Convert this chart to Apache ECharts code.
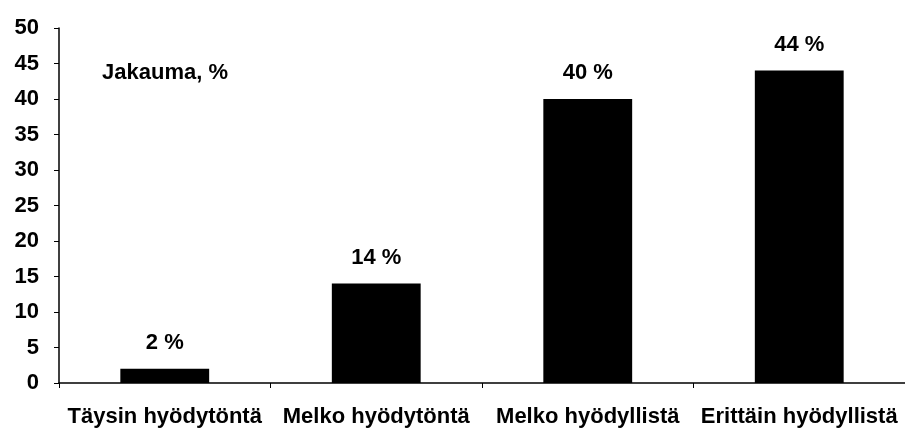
<!DOCTYPE html>
<html><head><meta charset="utf-8">
<script src="https://cdn.jsdelivr.net/npm/echarts@6/dist/echarts.min.js"></script>
<style>html,body{margin:0;padding:0;background:#fff}#c{width:905px;height:430px}</style>
</head><body><div id="c"></div>
<script>
const categories = ["Täysin hyödytöntä", "Melko hyödytöntä", "Melko hyödyllistä", "Erittäin hyödyllistä"];
const values = [2, 14, 40, 44];
const seriesName = "Jakauma, %";
const ff = "Liberation Sans, Arial, sans-serif";
const chart = echarts.init(document.getElementById('c'));
chart.setOption({
  animation: false,
  backgroundColor: '#fff',
  title: { text: seriesName, left: 97, top: 57, textStyle: { fontFamily: ff, fontSize: 22, fontWeight: 'bold', color: '#000' } },
  grid: { left: 59, right: 0, top: 28, bottom: 47, containLabel: false },
  xAxis: {
    type: 'category', data: categories,
    axisLine: { lineStyle: { color: '#000', width: 1.5 } },
    axisTick: { show: true, length: 5, lineStyle: { color: '#000' } },
    axisLabel: { fontFamily: ff, fontSize: 22, fontWeight: 'bold', color: '#000', margin: 23, interval: 0 }
  },
  yAxis: {
    type: 'value', min: 0, max: 50, interval: 5,
    splitLine: { show: false },
    axisLine: { show: true, lineStyle: { color: '#000', width: 1.5 } },
    axisTick: { show: true, length: 5, lineStyle: { color: '#000' } },
    axisLabel: { fontFamily: ff, fontSize: 22, fontWeight: 'bold', color: '#000', margin: 20 }
  },
  series: [{
    type: 'bar', name: seriesName, data: values, barWidth: '42%',
    itemStyle: { color: '#000' },
    label: { show: true, position: 'top', distance: 15, formatter: '{c} %', fontFamily: ff, fontSize: 22, fontWeight: 'bold', color: '#000' }
  }]
});
</script></body></html>
